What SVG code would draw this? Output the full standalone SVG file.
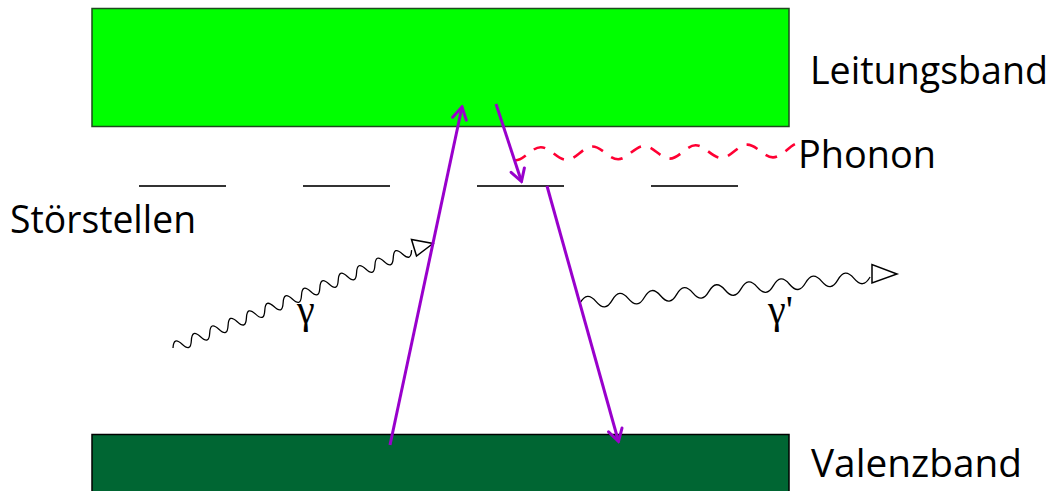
<svg xmlns="http://www.w3.org/2000/svg" width="1055" height="491" viewBox="0 0 1055 491">
<style>
.lbl{font-family:"Open Sans","DejaVu Sans",sans-serif;font-size:39px;fill:#000}
.gam{font-family:"Liberation Serif","DejaVu Serif",serif;font-size:40px;fill:#000}
.lvl{stroke:#333;stroke-width:2;fill:none}
.tr{stroke:#9900cc;stroke-width:3;fill:none;marker-end:url(#ah)}
.wave{stroke:#000;stroke-width:1.3;fill:none}
.tri{stroke:#000;stroke-width:1.5;fill:#fff;stroke-linejoin:miter}
.phon{stroke:#ff0033;stroke-width:2.6;fill:none;stroke-dasharray:12 10}
</style>
<defs>
<marker id="ah" viewBox="-14 -9 16 18" refX="0" refY="0" markerWidth="16" markerHeight="18" markerUnits="userSpaceOnUse" orient="auto">
<path d="M-12,-7 L0,0 L-12,7" fill="none" stroke="#9900cc" stroke-width="3" stroke-linecap="round" stroke-linejoin="miter"/>
</marker>
</defs>
<rect width="1055" height="491" fill="#fff"/>
<g id="leitungsband">
<rect x="92" y="8.5" width="697" height="118" fill="#00ff00" stroke="#1e4a1e" stroke-width="1.5"/>
<text class="lbl" x="810" y="84" textLength="238" lengthAdjust="spacingAndGlyphs">Leitungsband</text>
</g>
<g id="valenzband">
<rect x="92" y="434.5" width="697" height="60" fill="#006633" stroke="#000" stroke-width="1.5"/>
<text class="lbl" x="811" y="477" textLength="211" lengthAdjust="spacingAndGlyphs">Valenzband</text>
</g>
<g id="stoerstellen">
<line class="lvl" x1="139" y1="186" x2="226" y2="186"/>
<line class="lvl" x1="303" y1="186" x2="390" y2="186"/>
<line class="lvl" x1="477" y1="186" x2="564" y2="186"/>
<line class="lvl" x1="651" y1="186" x2="738" y2="186"/>
<text class="lbl" x="10" y="233" textLength="186" lengthAdjust="spacingAndGlyphs">Störstellen</text>
</g>
<g id="phonon">
<path class="phon" transform="translate(515,154) rotate(-0.7)" d="M0,6.5 c9.3,0 16.5,-13 25.8,-13 c9.3,0 16.5,13 25.8,13 c9.3,0 16.5,-13 25.8,-13 c9.3,0 16.5,13 25.8,13 c9.3,0 16.5,-13 25.8,-13 c9.3,0 16.5,13 25.8,13 c9.3,0 16.5,-13 25.8,-13 c9.3,0 16.5,13 25.8,13 c9.3,0 16.5,-13 25.8,-13 c9.3,0 16.5,13 25.8,13 c4.8,0 9,-3.5 13,-6.5 c3,-2.5 6,-5 9,-6.5"/>
<text class="lbl" x="798" y="168" textLength="138" lengthAdjust="spacingAndGlyphs">Phonon</text>
</g>
<g id="gamma">
<path class="wave" transform="translate(173,348) rotate(-22.3)" d="M0,0 c3.47,-7.3 6.45,-7.3 9.92,0 c3.47,7.3 6.45,7.3 9.92,0 c3.47,-7.3 6.45,-7.3 9.92,0 c3.47,7.3 6.45,7.3 9.92,0 c3.47,-7.3 6.45,-7.3 9.92,0 c3.47,7.3 6.45,7.3 9.92,0 c3.47,-7.3 6.45,-7.3 9.92,0 c3.47,7.3 6.45,7.3 9.92,0 c3.47,-7.3 6.45,-7.3 9.92,0 c3.47,7.3 6.45,7.3 9.92,0 c3.47,-7.3 6.45,-7.3 9.92,0 c3.47,7.3 6.45,7.3 9.92,0 c3.47,-7.3 6.45,-7.3 9.92,0 c3.47,7.3 6.45,7.3 9.92,0 c3.47,-7.3 6.45,-7.3 9.92,0 c3.47,7.3 6.45,7.3 9.92,0 c3.47,-7.3 6.45,-7.3 9.92,0 c3.47,7.3 6.45,7.3 9.92,0 c3.47,-7.3 6.45,-7.3 9.92,0 c3.47,7.3 6.45,7.3 9.92,0 c3.47,-7.3 6.45,-7.3 9.92,0 c3.47,7.3 6.45,7.3 9.92,0 c3.47,-7.3 6.45,-7.3 9.92,0 c3.47,7.3 6.45,7.3 9.92,0 c3.47,-7.3 6.45,-7.3 9.92,0 c3.47,7.3 6.45,7.3 9.92,0"/>
<polygon class="tri" points="411.5,239.5 416.5,256 433,243.5"/>
<text class="gam" x="297" y="323">γ</text>
</g>
<g id="gamma-prime">
<path class="wave" transform="translate(580,303) rotate(-5.12)" d="M0,0 c5.66,-8 10.52,-8 16.18,0 c5.66,8 10.52,8 16.18,0 c5.66,-8 10.52,-8 16.18,0 c5.66,8 10.52,8 16.18,0 c5.66,-8 10.52,-8 16.18,0 c5.66,8 10.52,8 16.18,0 c5.66,-8 10.52,-8 16.18,0 c5.66,8 10.52,8 16.18,0 c5.66,-8 10.52,-8 16.18,0 c5.66,8 10.52,8 16.18,0 c5.66,-8 10.52,-8 16.18,0 c5.66,8 10.52,8 16.18,0 c5.66,-8 10.52,-8 16.18,0 c5.66,8 10.52,8 16.18,0 c5.66,-8 10.52,-8 16.18,0 c5.66,8 10.52,8 16.18,0 c5.66,-8 10.52,-8 16.18,0 c5.66,8 10.52,8 16.18,0"/>
<polygon class="tri" points="872,264.5 872,283 897,274"/>
<text class="gam" x="768" y="323">γ'</text>
</g>
<g id="connectors">
<line class="tr" x1="390" y1="445" x2="462" y2="107"/>
<line class="tr" x1="496" y1="104" x2="521.5" y2="181.5"/>
<line class="tr" x1="547" y1="186" x2="618.5" y2="441.5"/>
</g>
</svg>
